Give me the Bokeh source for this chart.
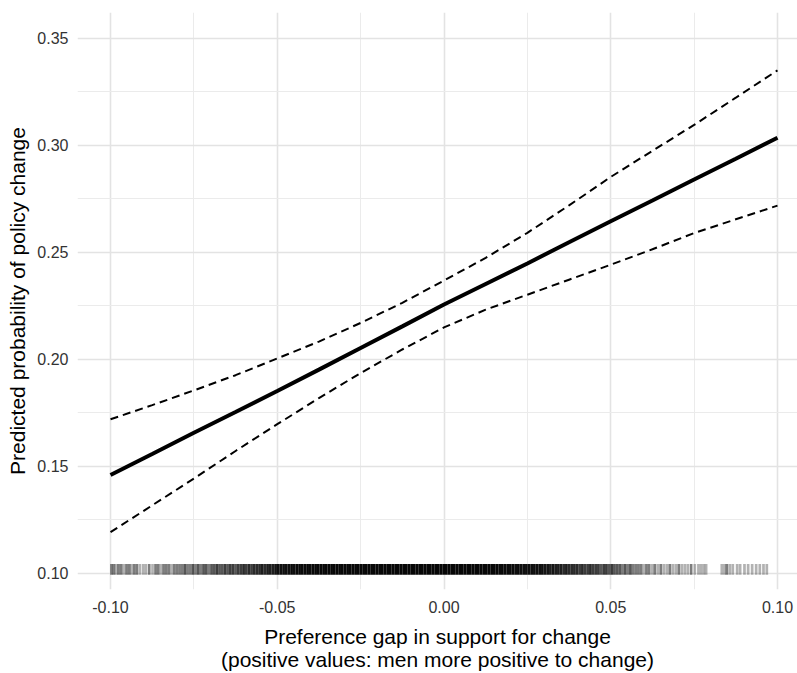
from bokeh.plotting import figure
from bokeh.models import FixedTicker, NumeralTickFormatter, Range1d, ColumnDataSource
from bokeh.embed import file_html
from bokeh.resources import INLINE

# ---- data ----
x_pred = [-0.10, -0.0875, -0.075, -0.0625, -0.05, -0.0375, -0.025, -0.0125, 0.0,
          0.0125, 0.025, 0.0375, 0.05, 0.0625, 0.075, 0.0875, 0.10]
fit = [0.146, 0.1558, 0.1657, 0.1754, 0.1852, 0.1952, 0.2053, 0.2154, 0.2256,
       0.2352, 0.2448, 0.2547, 0.2645, 0.2742, 0.284, 0.2937, 0.3035]
upper = [0.172, 0.1786, 0.1855, 0.1926, 0.2004, 0.2083, 0.2170, 0.2264, 0.2368,
         0.2474, 0.2591, 0.2719, 0.2852, 0.2974, 0.3095, 0.3222, 0.335]
lower = [0.1193, 0.1318, 0.1443, 0.1572, 0.1697, 0.1819, 0.1936, 0.2046, 0.2149,
         0.2232, 0.2302, 0.2372, 0.2442, 0.2514, 0.259, 0.2654, 0.2718]

x_ticks = [-0.10, -0.05, 0.0, 0.05, 0.10]
x_minor = [-0.075, -0.025, 0.025, 0.075]
y_ticks = [0.10, 0.15, 0.20, 0.25, 0.30, 0.35]
y_minor = [0.125, 0.175, 0.225, 0.275, 0.325]

# rug: observed preference gaps and the number of observations stacked at each
rug_x = [
    -0.0997, -0.0990, -0.0983, -0.0976, -0.0968, -0.0960, -0.0952, -0.0944, -0.0937, -0.0929,
    -0.0921, -0.0912, -0.0902, -0.0894, -0.0884, -0.0874, -0.0865, -0.0857, -0.0849, -0.0841,
    -0.0833, -0.0825, -0.0817, -0.0809, -0.0801, -0.0793, -0.0785, -0.0777, -0.0769, -0.0761,
    -0.0753, -0.0745, -0.0737, -0.0729, -0.0721, -0.0713, -0.0705, -0.0697, -0.0689, -0.0681,
    -0.0673, -0.0665, -0.0657, -0.0649, -0.0641, -0.0633, -0.0625, -0.0617, -0.0609, -0.0601,
    -0.0593, -0.0585, -0.0577, -0.0569, -0.0561, -0.0553, -0.0545, -0.0537, -0.0529, -0.0521,
    -0.0513, -0.0505,
    -0.0497, -0.0489, -0.0481, -0.0473, -0.0465, -0.0457, -0.0449, -0.0441, -0.0433, -0.0425,
    -0.0417, -0.0409, -0.0401, -0.0393, -0.0385, -0.0377, -0.0369, -0.0361, -0.0353, -0.0345,
    -0.0337, -0.0329, -0.0321, -0.0313, -0.0305, -0.0297, -0.0289, -0.0281, -0.0273, -0.0265,
    -0.0257, -0.0249, -0.0241, -0.0233, -0.0225, -0.0217, -0.0209, -0.0201, -0.0193, -0.0185,
    -0.0177, -0.0169, -0.0161, -0.0153, -0.0145, -0.0137, -0.0129, -0.0121, -0.0113, -0.0105,
    -0.0097, -0.0089, -0.0081, -0.0073, -0.0065, -0.0057, -0.0049, -0.0041, -0.0033, -0.0025,
    -0.0017, -0.0009, -0.0001, 0.0007, 0.0015, 0.0023, 0.0031, 0.0039, 0.0047, 0.0055,
    0.0063, 0.0071, 0.0079, 0.0087, 0.0095, 0.0103, 0.0111, 0.0119, 0.0127, 0.0135,
    0.0143, 0.0151, 0.0159, 0.0167, 0.0175, 0.0183, 0.0191, 0.0199, 0.0207, 0.0215,
    0.0223, 0.0231, 0.0239, 0.0247, 0.0255, 0.0263, 0.0271, 0.0279, 0.0287, 0.0295,
    0.0303, 0.0311, 0.0319, 0.0327, 0.0335, 0.0343, 0.0351, 0.0359, 0.0367, 0.0375,
    0.0383, 0.0391, 0.0399, 0.0407, 0.0415, 0.0423, 0.0431, 0.0439, 0.0447, 0.0455,
    0.0463, 0.0471, 0.0479, 0.0487, 0.0495, 0.0503, 0.0511, 0.0519, 0.0527, 0.0535,
    0.0543, 0.0551, 0.0559, 0.0567, 0.0575, 0.0583, 0.0591, 0.0599, 0.0607, 0.0615,
    0.0624, 0.0632, 0.0641, 0.0650, 0.0659, 0.0668, 0.0677, 0.0686, 0.0695, 0.0704,
    0.0713, 0.0722, 0.0731, 0.0741, 0.0752, 0.0763, 0.0771, 0.0779, 0.0786,
    0.0833, 0.0841, 0.0848, 0.0857, 0.0866, 0.0879, 0.0888, 0.0901, 0.0912, 0.0924,
    0.0936, 0.0947, 0.0958, 0.0968,
]
rug_n = [
    2, 2, 1, 2, 2, 1, 2, 2, 1, 2,
    2, 1, 1, 1, 2, 1, 2, 2, 1, 2,
    2, 2, 1, 2, 2, 2, 2, 3, 2, 2,
    3, 2, 3, 2, 3, 3, 2, 3, 3, 4,
    3, 3, 4, 3, 4, 4, 3, 4, 4, 5,
    4, 5, 4, 5, 5, 5, 6, 5, 6, 6,
    6, 7,
    8, 8, 8, 8, 8, 9, 8, 9, 9, 9,
    9, 10, 9, 10, 10, 10, 10, 10, 10, 10,
    10, 10, 10, 10, 10, 10, 10, 10, 10, 10,
    10, 10, 10, 10, 10, 10, 10, 10, 10, 10,
    10, 10, 10, 10, 10, 10, 10, 10, 10, 10,
    10, 10, 10, 10, 10, 10, 10, 10, 10, 10,
    10, 10, 10, 10, 10, 10, 10, 10, 10, 10,
    10, 10, 10, 10, 10, 10, 10, 10, 10, 10,
    10, 10, 10, 9, 10, 9, 9, 9, 9, 8,
    9, 8, 8, 8, 8, 8, 8, 8, 8, 8,
    7, 7, 6, 7, 6, 6, 6, 5, 6, 5,
    5, 5, 5, 4, 5, 4, 4, 5, 4, 4,
    4, 3, 4, 4, 3, 4, 3, 3, 3, 2,
    3, 2, 3, 2, 2, 2, 2, 1, 2, 2,
    1, 2, 1, 2, 1, 1, 2, 1, 1, 2,
    1, 1, 1, 2, 1, 1, 1, 1, 1,
    1, 1, 2, 1, 1, 1, 1, 1, 1, 1,
    1, 1, 1, 1,
]

FONT = "Liberation Sans"

p = figure(
    width=797, height=673,
    x_range=Range1d(-0.1099, 0.1060), y_range=Range1d(0.0925, 0.3620),
    output_backend="svg", toolbar_location=None,
    min_border_left=77, min_border_right=0, min_border_top=12, min_border_bottom=84,
)
p.outline_line_color = None
p.background_fill_color = "white"
p.border_fill_color = "white"

p.xaxis.ticker = FixedTicker(ticks=x_ticks, minor_ticks=x_minor)
p.yaxis.ticker = FixedTicker(ticks=y_ticks, minor_ticks=y_minor)
p.xaxis.formatter = NumeralTickFormatter(format="0.00")
p.yaxis.formatter = NumeralTickFormatter(format="0.00")

for ax in (p.xaxis[0], p.yaxis[0]):
    ax.axis_line_color = None
    ax.major_tick_line_color = None
    ax.minor_tick_line_color = None
    ax.major_tick_out = 0
    ax.major_tick_in = 0
    ax.minor_tick_out = 0
    ax.minor_tick_in = 0
    ax.major_label_text_font = FONT
    ax.major_label_text_font_size = "16px"
    ax.major_label_text_color = "#333333"
    ax.axis_label_text_font = FONT
    ax.axis_label_text_font_size = "21px"
    ax.axis_label_text_font_style = "normal"
    ax.axis_label_text_color = "black"

p.xaxis.axis_label = "Preference gap in support for change\n(positive values: men more positive to change)"
p.xaxis.axis_label_text_line_height = 1.0
p.yaxis.axis_label = "Predicted probability of policy change"
p.xaxis.major_label_standoff = 11
p.xaxis.axis_label_standoff = 9
p.yaxis.major_label_standoff = 9
p.yaxis.axis_label_standoff = 5

for g in (p.xgrid[0], p.ygrid[0]):
    g.grid_line_color = "#e3e3e3"
    g.grid_line_width = 1.6
    g.minor_grid_line_color = "#ebebeb"
    g.minor_grid_line_width = 1.0

# rug
base_alpha = 0.3
rug_alpha = [1 - (1 - base_alpha) ** n for n in rug_n]
rug_src = ColumnDataSource(dict(
    x=rug_x,
    y0=[0.0994] * len(rug_x),
    y1=[0.1044] * len(rug_x),
    a=rug_alpha,
))
p.segment(x0="x", y0="y0", x1="x", y1="y1", source=rug_src,
          line_color="black", line_alpha="a", line_width=2.7)

# confidence bounds and fitted line
p.line(x_pred, upper, line_color="black", line_width=2, line_dash="8 5")
p.line(x_pred, lower, line_color="black", line_width=2, line_dash="8 5")
p.line(x_pred, fit, line_color="black", line_width=4)

open("out.html", "w").write(file_html(p, INLINE))
